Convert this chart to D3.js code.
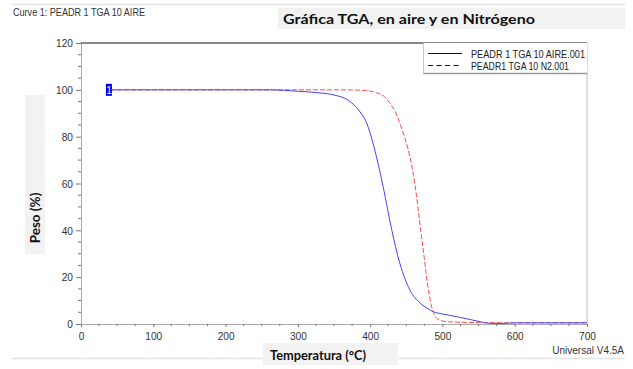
<!DOCTYPE html>
<html>
<head>
<meta charset="utf-8">
<script src="https://cdn.jsdelivr.net/npm/d3@7"></script>
<style>
  body { margin: 0; background: #fff; }
  svg { display: block; }
</style>
</head>
<body>
<script>
const width = 633;
const height = 369;
const marginTop = 43;
const marginRight = 46;
const marginBottom = 45;
const marginLeft = 81;

// curve 1: aire (solid blue)
const tempAire = [40, 100, 200, 250, 280, 300, 330, 350, 370, 385, 395, 405, 418, 430, 441, 455, 469, 480, 487, 500, 520, 540, 552, 565, 580, 600, 650, 700];
const pesoAire = [100, 100, 100, 100, 99.8, 99.4, 98.7, 97.8, 95.5, 91, 86, 76, 58.6, 40, 26, 14.5, 9, 6.5, 5.3, 4.3, 3.1, 1.8, 1, 0.3, 0.2, 0.5, 0.5, 0.5];
// curve 2: nitrogeno (dashed red)
const tempN2 = [40, 200, 300, 360, 390, 409, 420, 427, 435, 441, 448, 455, 460, 464, 468, 471, 475, 478, 482, 485, 489, 492, 500, 506, 550, 600, 700];
const pesoN2 = [100, 100, 100, 100, 99.8, 98.8, 97, 94.4, 90.5, 85.8, 79.5, 71.4, 63.5, 55, 45, 37.3, 28, 20.2, 12, 7.4, 4, 2.4, 1.3, 1, 0.6, 0.5, 0.5];

const xTicks = [0, 100, 200, 300, 400, 500, 600, 700];
const yTicks = [0, 20, 40, 60, 80, 100, 120];
const legendLabels = ["PEADR 1 TGA 10 AIRE.001", "PEADR1 TGA 10 N2.001"];

const x = d3.scaleLinear().domain([0, 700]).range([marginLeft, width - marginRight]);
const y = d3.scaleLinear().domain([0, 120]).range([height - marginBottom, marginTop]);

const svg = d3.select("body").append("svg")
  .attr("width", width)
  .attr("height", height)
  .attr("viewBox", [0, 0, width, height]);

const narrow = "Liberation Sans, Arial, sans-serif";

// header / footer rules
svg.append("line").attr("x1", 12).attr("x2", 625).attr("y1", 4.5).attr("y2", 4.5)
  .attr("stroke", "#e4e4e4").attr("stroke-width", 1.5);
svg.append("line").attr("x1", 12).attr("x2", 625).attr("y1", 358.5).attr("y2", 358.5)
  .attr("stroke", "#e4e4e4").attr("stroke-width", 1.5);

svg.append("text")
  .text("Curve 1: PEADR 1 TGA 10 AIRE")
  .attr("x", 13).attr("y", 16)
  .attr("font-family", narrow)
  .attr("font-size", 10.5)
  .attr("textLength", 132)
  .attr("lengthAdjust", "spacingAndGlyphs")
  .attr("fill", "#333");

// title band
svg.append("rect").attr("x", 278).attr("y", 8).attr("width", 347).attr("height", 21).attr("fill", "#f2f2f2");
svg.append("text")
  .text("Gráfica TGA, en aire y en Nitrógeno")
  .attr("x", 283).attr("y", 23.5)
  .attr("font-family", "Lato, Open Sans, sans-serif")
  .attr("font-weight", "bold")
  .attr("font-size", 14)
  .attr("textLength", 252)
  .attr("lengthAdjust", "spacingAndGlyphs")
  .attr("fill", "#111");

// axes
const xAxis = svg.append("g")
  .attr("transform", `translate(0,${y(0)})`)
  .call(d3.axisBottom(x).tickValues(xTicks).tickSize(3).tickPadding(5));
const yAxis = svg.append("g")
  .attr("transform", `translate(${marginLeft},0)`)
  .call(d3.axisLeft(y).tickValues(yTicks).tickSize(5).tickPadding(3));

// minor ticks
svg.append("g").selectAll("line")
  .data(d3.range(25, 700, 25).filter(d => d % 100 !== 0))
  .join("line")
  .attr("x1", d => x(d)).attr("x2", d => x(d))
  .attr("y1", y(0)).attr("y2", y(0) + 2)
  .attr("stroke", "#777");
svg.append("g").selectAll("line")
  .data(d3.range(5, 120, 5).filter(d => d % 20 !== 0))
  .join("line")
  .attr("x1", marginLeft - 3).attr("x2", marginLeft)
  .attr("y1", d => y(d)).attr("y2", d => y(d))
  .attr("stroke", "#777");

[xAxis, yAxis].forEach(g => {
  g.select(".domain").attr("stroke", "#aaa");
  g.selectAll(".tick line").attr("stroke", "#777");
  g.selectAll(".tick text")
    .attr("font-family", narrow)
    .attr("font-size", 11.5)
    .attr("fill", "#333")
    .attr("transform", "scale(0.88,1)");
});
yAxis.selectAll(".tick text").attr("x", -8 / 0.88);

// frame top / right
svg.append("line").attr("x1", marginLeft).attr("x2", width - marginRight)
  .attr("y1", y(120)).attr("y2", y(120)).attr("stroke", "#888").attr("stroke-width", 2);
svg.append("line").attr("x1", x(700)).attr("x2", x(700))
  .attr("y1", y(120)).attr("y2", y(0)).attr("stroke", "#bbb");

// curves
const line = d3.line().x(d => x(d[0])).y(d => y(d[1])).curve(d3.curveMonotoneX);

svg.append("path")
  .datum(d3.zip(tempN2, pesoN2))
  .attr("d", line)
  .attr("fill", "none")
  .attr("stroke", "#ff4a4a")
  .attr("stroke-width", 1)
  .attr("stroke-dasharray", "5,2");

svg.append("path")
  .datum(d3.zip(tempAire, pesoAire))
  .attr("d", line)
  .attr("fill", "none")
  .attr("stroke", "#4444ff")
  .attr("stroke-width", 1);

// curve marker "1"
svg.append("rect")
  .attr("x", x(tempAire[0]) - 4).attr("y", y(pesoAire[0]) - 6)
  .attr("width", 6).attr("height", 12)
  .attr("fill", "#0000ee");
svg.append("text")
  .text("1")
  .attr("x", x(tempAire[0]) - 1).attr("y", y(pesoAire[0]) + 4)
  .attr("text-anchor", "middle")
  .attr("font-family", narrow)
  .attr("font-size", 10)
  .attr("fill", "#fff");

// legend
const lg = svg.append("g");
lg.append("rect").attr("x", 423.5).attr("y", 43).attr("width", x(700) - 423.5).attr("height", 30.5)
  .attr("fill", "#fff").attr("stroke", "none");
lg.append("line").attr("x1", 423.5).attr("x2", 423.5).attr("y1", 43).attr("y2", 73.5).attr("stroke", "#ccc");
lg.append("line").attr("x1", 423.5).attr("x2", x(700)).attr("y1", 73.5).attr("y2", 73.5).attr("stroke", "#999").attr("stroke-width", 1.5);
legendLabels.forEach((t, i) => {
  const yy = 53.5 + i * 12;
  lg.append("line").attr("x1", 428).attr("x2", 462).attr("y1", yy).attr("y2", yy)
    .attr("stroke", "#111").attr("stroke-width", 1)
    .attr("stroke-dasharray", i === 1 ? "5,3.5" : null);
  lg.append("text").text(t)
    .attr("x", 471).attr("y", yy + 4)
    .attr("font-family", narrow)
    .attr("font-size", 10.5)
    .attr("textLength", i === 0 ? 114 : 98)
    .attr("lengthAdjust", "spacingAndGlyphs")
    .attr("fill", "#222");
});

// y label
svg.append("rect").attr("x", 25).attr("y", 95).attr("width", 20).attr("height", 159).attr("fill", "#f2f2f2");
svg.append("text")
  .text("Peso (%)")
  .attr("transform", "translate(40,218) rotate(-90)")
  .attr("text-anchor", "middle")
  .attr("font-family", "Lato, Open Sans, sans-serif")
  .attr("font-weight", "bold")
  .attr("font-size", 13.5)
  .attr("fill", "#111");

// x label
svg.append("rect").attr("x", 263).attr("y", 343).attr("width", 135).attr("height", 22).attr("fill", "#f2f2f2");
svg.append("text")
  .text("Temperatura (°C)")
  .attr("x", 270).attr("y", 360)
  .attr("font-family", "Lato, Open Sans, sans-serif")
  .attr("font-weight", "bold")
  .attr("font-size", 14)
  .attr("textLength", 96)
  .attr("lengthAdjust", "spacingAndGlyphs")
  .attr("fill", "#111");

svg.append("text")
  .text("Universal V4.5A")
  .attr("x", 624).attr("y", 354)
  .attr("text-anchor", "end")
  .attr("font-family", narrow)
  .attr("font-size", 10)
  .attr("fill", "#333");
</script>
</body>
</html>
